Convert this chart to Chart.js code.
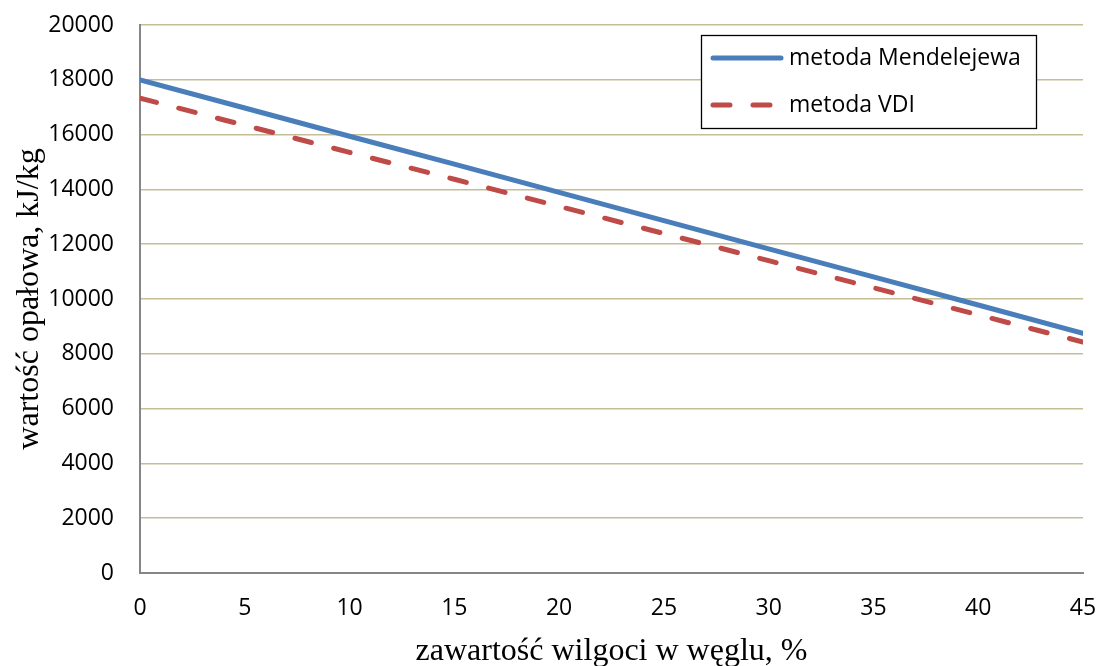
<!DOCTYPE html>
<html lang="pl">
<head>
<meta charset="UTF-8">
<title>Wartość opałowa węgla</title>
<script src="https://cdn.jsdelivr.net/npm/chart.js"></script>
<style>
  html, body { margin: 0; padding: 0; background: #fff; }
  #wrap { width: 1098px; height: 666px; }
</style>
</head>
<body>
<div id="wrap"><canvas id="chart" width="1098" height="666"></canvas></div>
<script>
// zawartość wilgoci, %
const wilgoc = [0, 5, 10, 15, 20, 25, 30, 35, 40, 45];
// wartość opałowa, kJ/kg
const mendelejew = [18000, 16970, 15940, 14920, 13890, 12860, 11830, 10810, 9780, 8750];
const vdi = [17330, 16340, 15350, 14370, 13380, 12390, 11400, 10410, 9420, 8430];

const nazwy = ['metoda Mendelejewa', 'metoda VDI'];
const kolory = ['#4a7ebb', '#be4b48'];

const pts = arr => wilgoc.map((x, i) => ({ x: x, y: arr[i] }));

// legenda w ramce wewnątrz obszaru wykresu
const ramkaLegendy = {
  id: 'ramkaLegendy',
  afterDraw(chart) {
    const ctx = chart.ctx;
    const x0 = 701, y0 = 35, w = 335, h = 93;
    ctx.save();
    ctx.fillStyle = '#fff';
    ctx.fillRect(x0, y0, w, h);
    ctx.strokeStyle = '#000';
    ctx.lineWidth = 1.3;
    ctx.strokeRect(x0 + 0.5, y0 + 0.5, w, h);
    chart.data.datasets.forEach((ds, i) => {
      const y = y0 + 23 + i * 47;
      ctx.beginPath();
      ctx.strokeStyle = ds.borderColor;
      ctx.lineWidth = ds.borderWidth;
      ctx.lineCap = 'round';
      ctx.setLineDash(ds.borderDash || []);
      ctx.moveTo(713, y);
      ctx.lineTo(781, y);
      ctx.stroke();
      ctx.setLineDash([]);
      ctx.fillStyle = '#000';
      ctx.font = '23px "Open Sans"';
      ctx.textBaseline = 'middle';
      ctx.textAlign = 'left';
      ctx.fillText(ds.label, 789, y);
    });
    ctx.restore();
  }
};

new Chart(document.getElementById('chart'), {
  type: 'line',
  data: {
    datasets: [
      {
        label: nazwy[0],
        data: pts(mendelejew),
        borderColor: kolory[0],
        borderWidth: 5,
        borderCapStyle: 'round',
        pointRadius: 0,
        tension: 0
      },
      {
        label: nazwy[1],
        data: pts(vdi),
        borderColor: kolory[1],
        borderWidth: 5,
        borderDash: [17, 23],
        borderCapStyle: 'round',
        pointRadius: 0,
        tension: 0
      }
    ]
  },
  options: {
    responsive: false,
    animation: false,
    layout: { padding: { left: 0, right: 15, top: 25, bottom: 0 } },
    plugins: {
      legend: { display: false },
      tooltip: { enabled: false }
    },
    scales: {
      x: {
        type: 'linear',
        min: 0,
        max: 45,
        // stała wysokość osi, bez dodatkowego marginesu na etykiety
        afterFit: s => { s.height = 93; s.paddingLeft = 0; s.paddingRight = 0; },
        ticks: {
          stepSize: 5,
          padding: 22,
          color: '#000',
          font: { family: 'Open Sans', size: 23 }
        },
        grid: { display: false, drawTicks: false },
        border: { display: true, color: '#868686', width: 2 },
        title: {
          display: true,
          text: 'zawartość wilgoci w węglu, %',
          color: '#000',
          padding: { top: 0, bottom: -2 },
          font: { family: 'Liberation Serif', size: 32, lineHeight: 1 }
        }
      },
      y: {
        min: 0,
        max: 20000,
        afterFit: s => { s.width = 140; s.paddingTop = 0; s.paddingBottom = 0; },
        ticks: {
          stepSize: 2000,
          padding: 26,
          color: '#000',
          font: { family: 'Open Sans', size: 23 },
          callback: v => String(v)
        },
        grid: { color: '#c4bd97', lineWidth: 1.5, drawTicks: false },
        border: { display: true, color: '#868686', width: 2 },
        title: {
          display: true,
          text: 'wartość opałowa, kJ/kg',
          color: '#000',
          padding: { top: 14, bottom: 0 },
          font: { family: 'Liberation Serif', size: 32, lineHeight: 1 }
        }
      }
    }
  },
  plugins: [ramkaLegendy]
});
</script>
</body>
</html>
